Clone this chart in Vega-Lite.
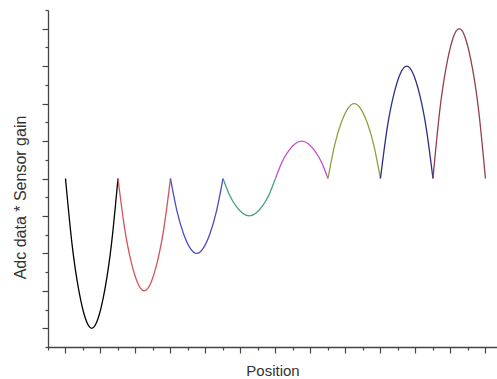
{
  "$schema": "https://vega.github.io/schema/vega-lite/v6.json",
  "width": 449,
  "height": 337,
  "autosize": {"type": "none"},
  "padding": {"left": 48, "top": 10, "right": 0, "bottom": 32},
  "background": "white",
  "config": {"view": {"stroke": null}},
  "data": {"values": [
    {"seg": 1, "x": 1, "y": 9}, {"seg": 1, "x": 1.375, "y": 5.48}, {"seg": 1, "x": 1.75, "y": 3.08}, {"seg": 1, "x": 2.125, "y": 1.56}, {"seg": 1, "x": 2.5, "y": 1}, {"seg": 1, "x": 2.875, "y": 1.56}, {"seg": 1, "x": 3.25, "y": 3.08}, {"seg": 1, "x": 3.625, "y": 5.48}, {"seg": 1, "x": 4, "y": 9},
    {"seg": 2, "x": 4, "y": 9}, {"seg": 2, "x": 4.375, "y": 6.36}, {"seg": 2, "x": 4.75, "y": 4.56}, {"seg": 2, "x": 5.125, "y": 3.42}, {"seg": 2, "x": 5.5, "y": 3}, {"seg": 2, "x": 5.875, "y": 3.42}, {"seg": 2, "x": 6.25, "y": 4.56}, {"seg": 2, "x": 6.625, "y": 6.36}, {"seg": 2, "x": 7, "y": 9},
    {"seg": 3, "x": 7, "y": 9}, {"seg": 3, "x": 7.375, "y": 7.24}, {"seg": 3, "x": 7.75, "y": 6.04}, {"seg": 3, "x": 8.125, "y": 5.28}, {"seg": 3, "x": 8.5, "y": 5}, {"seg": 3, "x": 8.875, "y": 5.28}, {"seg": 3, "x": 9.25, "y": 6.04}, {"seg": 3, "x": 9.625, "y": 7.24}, {"seg": 3, "x": 10, "y": 9},
    {"seg": 4, "x": 10, "y": 9}, {"seg": 4, "x": 10.375, "y": 8.12}, {"seg": 4, "x": 10.75, "y": 7.52}, {"seg": 4, "x": 11.125, "y": 7.14}, {"seg": 4, "x": 11.5, "y": 7}, {"seg": 4, "x": 11.875, "y": 7.14}, {"seg": 4, "x": 12.25, "y": 7.52}, {"seg": 4, "x": 12.625, "y": 8.12}, {"seg": 4, "x": 13, "y": 9},
    {"seg": 5, "x": 13, "y": 9}, {"seg": 5, "x": 13.375, "y": 9.88}, {"seg": 5, "x": 13.75, "y": 10.48}, {"seg": 5, "x": 14.125, "y": 10.86}, {"seg": 5, "x": 14.5, "y": 11}, {"seg": 5, "x": 14.875, "y": 10.86}, {"seg": 5, "x": 15.25, "y": 10.48}, {"seg": 5, "x": 15.625, "y": 9.88}, {"seg": 5, "x": 16, "y": 9},
    {"seg": 6, "x": 16, "y": 9}, {"seg": 6, "x": 16.375, "y": 10.76}, {"seg": 6, "x": 16.75, "y": 11.96}, {"seg": 6, "x": 17.125, "y": 12.72}, {"seg": 6, "x": 17.5, "y": 13}, {"seg": 6, "x": 17.875, "y": 12.72}, {"seg": 6, "x": 18.25, "y": 11.96}, {"seg": 6, "x": 18.625, "y": 10.76}, {"seg": 6, "x": 19, "y": 9},
    {"seg": 7, "x": 19, "y": 9}, {"seg": 7, "x": 19.375, "y": 11.64}, {"seg": 7, "x": 19.75, "y": 13.44}, {"seg": 7, "x": 20.125, "y": 14.58}, {"seg": 7, "x": 20.5, "y": 15}, {"seg": 7, "x": 20.875, "y": 14.58}, {"seg": 7, "x": 21.25, "y": 13.44}, {"seg": 7, "x": 21.625, "y": 11.64}, {"seg": 7, "x": 22, "y": 9},
    {"seg": 8, "x": 22, "y": 9}, {"seg": 8, "x": 22.375, "y": 12.52}, {"seg": 8, "x": 22.75, "y": 14.92}, {"seg": 8, "x": 23.125, "y": 16.44}, {"seg": 8, "x": 23.5, "y": 17}, {"seg": 8, "x": 23.875, "y": 16.44}, {"seg": 8, "x": 24.25, "y": 14.92}, {"seg": 8, "x": 24.625, "y": 12.52}, {"seg": 8, "x": 25, "y": 9}
  ]},
  "mark": {"type": "line", "interpolate": "natural", "strokeWidth": 1.3},
  "encoding": {
    "x": {
      "field": "x", "type": "quantitative",
      "scale": {"domain": [0, 25.66], "nice": false, "zero": false},
      "axis": {
        "title": "Position",
        "labels": false, "grid": false,
        "values": [0,1,2,3,4,5,6,7,8,9,10,11,12,13,14,15,16,17,18,19,20,21,22,23,24,25],
        "domainColor": "#444", "domainWidth": 1.3,
        "tickColor": "#444", "tickWidth": 1.2,
        "tickSize": {"condition": {"test": "datum.value % 2 === 1", "value": 6}, "value": 3},
        "titleFont": "Liberation Sans", "titleFontSize": 15, "titleFontWeight": "normal", "titleColor": "#333",
        "titleY": 28, "titleBaseline": "alphabetic"
      }
    },
    "y": {
      "field": "y", "type": "quantitative",
      "scale": {"domain": [0, 18], "nice": false, "zero": false},
      "axis": {
        "title": "Adc data * Sensor gain",
        "labels": false, "grid": false,
        "values": [0,1,2,3,4,5,6,7,8,9,10,11,12,13,14,15,16,17,18],
        "domainColor": "#444", "domainWidth": 1.3,
        "tickColor": "#444", "tickWidth": 1.2,
        "tickSize": {"condition": {"test": "datum.value % 2 === 1", "value": 6}, "value": 3},
        "titleFont": "Liberation Sans", "titleFontSize": 16, "titleFontWeight": "normal", "titleColor": "#333",
        "titleAngle": -90, "titleX": -28, "titleY": 187, "titleAlign": "center", "titleBaseline": "middle"
      }
    },
    "color": {
      "field": "seg", "type": "nominal", "legend": null,
      "scale": {"domain": [1,2,3,4,5,6,7,8], "range": ["#000000", "#d9505a", "#4c4cc4", "#45a08a", "#c64cd2", "#8fa040", "#2e2e86", "#94404e"]}
    }
  }
}
